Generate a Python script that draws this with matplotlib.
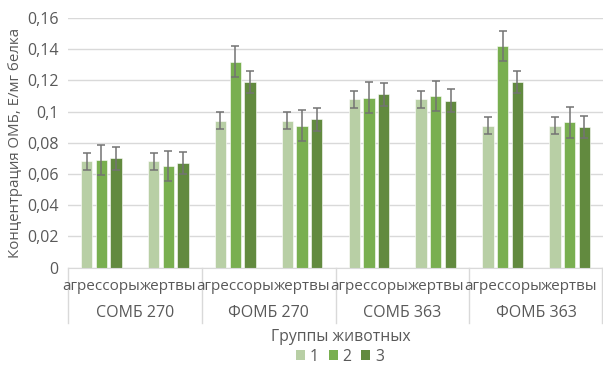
import matplotlib

matplotlib.use("Agg")

import matplotlib.pyplot as plt
import numpy as np
from matplotlib.patches import Patch

# data
categories = ["агрессоры", "жертвы"] * 4
groups = ["СОМБ 270", "ФОМБ 270", "СОМБ 363", "ФОМБ 363"]
series_names = ["1", "2", "3"]

s1 = [0.068, 0.068, 0.094, 0.094, 0.108, 0.108, 0.091, 0.091]
s2 = [0.069, 0.065, 0.132, 0.091, 0.109, 0.110, 0.142, 0.093]
s3 = [0.070, 0.067, 0.119, 0.095, 0.111, 0.107, 0.119, 0.090]
err1 = [0.0055] * 8
err2 = [0.0098] * 8
err3 = [0.0072] * 8

y_ticks = [0, 0.02, 0.04, 0.06, 0.08, 0.1, 0.12, 0.14, 0.16]
y_tick_labels = ["0", "0,02", "0,04", "0,06", "0,08", "0,1", "0,12", "0,14", "0,16"]

colors = ["#B8CFA5", "#79AF50", "#628A3F"]
text_color = "#595959"
grid_color = "#D9D9D9"

plt.rcParams["font.family"] = ["Open Sans", "DejaVu Sans"]

fig = plt.figure(figsize=(6.03, 3.65), dpi=100)
ax = fig.add_axes([68 / 603, 1 - 267.5 / 365, 535 / 603, 249.5 / 365])

x = np.arange(len(categories))
offsets = [-0.22, 0.0, 0.22]
for vals, errs, off, col in zip([s1, s2, s3], [err1, err2, err3], offsets, colors):
    ax.bar(x + off, vals, width=0.17, color=col, edgecolor="white", linewidth=0.4, zorder=2)
    ax.errorbar(x + off, vals, yerr=errs, fmt="none", ecolor="#737373",
                elinewidth=1.1, capsize=3, capthick=1.1, zorder=3)

ax.set_xlim(-0.5, len(categories) - 0.5)
ax.set_ylim(0, 0.16)
ax.set_yticks(y_ticks)
ax.set_yticklabels(y_tick_labels, color=text_color, fontsize=11.5)
ax.tick_params(axis="y", length=0, pad=7)
ax.yaxis.grid(True, color=grid_color, linewidth=1, zorder=0)
ax.set_axisbelow(True)

for side in ["left", "right", "top"]:
    ax.spines[side].set_visible(False)
ax.spines["bottom"].set_color(grid_color)

ax.set_xticks([])
ax.set_ylabel("Концентрация ОМБ, Е/мг белка", color=text_color, fontsize=10.8, labelpad=3)

# two-level category axis
trans = ax.get_xaxis_transform()
px = 1 / 249.5
for i, lab in enumerate(categories):
    ax.text(i, -19.5 * px, lab, transform=trans, ha="center", va="center",
            color=text_color, fontsize=11)
for g, lab in enumerate(groups):
    ax.text(2 * g + 0.5, -45.5 * px, lab, transform=trans, ha="center", va="center",
            color=text_color, fontsize=11.5)
for b in range(len(groups) + 1):
    xb = 2 * b - 0.5
    if b == len(groups):
        xb -= 0.01
    ax.plot([xb, xb], [0, -55 * px], transform=trans, color=grid_color,
            linewidth=1, clip_on=False)

fig.text(341 / 603, 1 - 337 / 365, "Группы животных", ha="center", va="center",
         color=text_color, fontsize=11.3)

handles = [Patch(facecolor=c, edgecolor="none") for c in colors]
fig.legend(handles, series_names, loc="center", bbox_to_anchor=(340 / 603, 1 - 357 / 365),
           ncol=3, frameon=False, fontsize=11.3, handlelength=0.6, handleheight=0.6,
           handletextpad=0.3, columnspacing=0.6, labelcolor=text_color,
           borderpad=0.1)

fig.savefig("out.png", dpi=100)
